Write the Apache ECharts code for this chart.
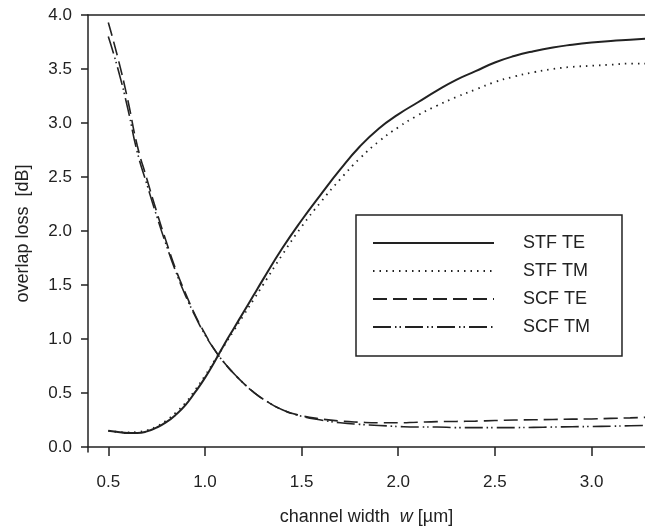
<!DOCTYPE html>
<html>
<head>
<meta charset="utf-8">
<script src="https://cdn.jsdelivr.net/npm/echarts@6/dist/echarts.min.js"></script>
<style>
  html, body { margin: 0; padding: 0; background: #fff; }
  #chart { width: 645px; height: 527px; }
</style>
</head>
<body>
<div id="chart"></div>
<script>
  // channel width w [um]
  const widths = [0.5, 0.55, 0.6, 0.65, 0.7, 0.75, 0.8, 0.85, 0.9, 0.95, 1.0, 1.05, 1.1, 1.15, 1.2, 1.25, 1.3,
    1.4, 1.5, 1.6, 1.7, 1.8, 1.9, 2.0, 2.1, 2.2, 2.3, 2.4, 2.5, 2.6, 2.7, 2.8, 2.9, 3.0, 3.1, 3.2, 3.28];

  // overlap loss [dB]
  const stfTE = [0.15, 0.14, 0.13, 0.13, 0.145, 0.18, 0.23, 0.30, 0.39, 0.51, 0.64, 0.79, 0.95, 1.10, 1.25, 1.40, 1.55,
    1.84, 2.10, 2.34, 2.57, 2.78, 2.95, 3.08, 3.19, 3.30, 3.40, 3.48, 3.56, 3.62, 3.665, 3.70, 3.725, 3.745, 3.76, 3.77, 3.78];
  const stfTM = [0.15, 0.14, 0.135, 0.14, 0.155, 0.19, 0.245, 0.32, 0.41, 0.53, 0.66, 0.80, 0.94, 1.08, 1.22, 1.36, 1.50,
    1.78, 2.04, 2.27, 2.48, 2.67, 2.83, 2.96, 3.07, 3.16, 3.24, 3.31, 3.38, 3.43, 3.47, 3.50, 3.52, 3.53, 3.54, 3.55, 3.55];
  const scfTE = [3.93, 3.60, 3.22, 2.79, 2.48, 2.18, 1.90, 1.64, 1.42, 1.22, 1.05, 0.90, 0.78, 0.68, 0.59, 0.51, 0.445,
    0.345, 0.29, 0.26, 0.24, 0.23, 0.225, 0.225, 0.23, 0.235, 0.237, 0.24, 0.245, 0.25, 0.252, 0.255, 0.258, 0.26, 0.265, 0.27, 0.275];
  const scfTM = [3.80, 3.50, 3.14, 2.73, 2.43, 2.14, 1.87, 1.62, 1.40, 1.21, 1.04, 0.90, 0.78, 0.68, 0.59, 0.51, 0.445,
    0.345, 0.285, 0.25, 0.225, 0.21, 0.20, 0.19, 0.185, 0.185, 0.18, 0.18, 0.18, 0.18, 0.182, 0.185, 0.188, 0.19, 0.193, 0.197, 0.20];

  const xTicks = [0.5, 1.0, 1.5, 2.0, 2.5, 3.0];
  const yTicks = [0, 0.5, 1.0, 1.5, 2.0, 2.5, 3.0, 3.5, 4.0];

  const ink = '#222';
  const font = 'Liberation Sans, Arial, sans-serif';

  function pairs(ys) {
    return widths.map((w, i) => [w, ys[i]]);
  }

  function lineSeries(name, ys, width, type) {
    return {
      name: name,
      type: 'line',
      symbol: 'none',
      smooth: 0.5,
      color: ink,
      lineStyle: { color: ink, width: width, type: type },
      data: pairs(ys)
    };
  }

  const chart = echarts.init(document.getElementById('chart'), null, { renderer: 'canvas' });

  const option = {
    animation: false,
    backgroundColor: '#fff',
    textStyle: { fontFamily: font, color: ink },
    grid: { left: 88, right: 0, top: 15, bottom: 75, outerBoundsMode: 'none' },
    legend: {
      orient: 'vertical',
      left: 356,
      top: 215,
      itemWidth: 121,
      itemHeight: 14,
      itemGap: 10,
      padding: [19, 32, 20, 16],
      borderColor: ink,
      borderWidth: 1.5,
      itemStyle: { opacity: 0 },
      textStyle: { fontFamily: font, fontSize: 18, color: ink, lineHeight: 18, padding: [0, 0, 0, 24] },
      data: ['STF TE', 'STF TM', 'SCF TE', 'SCF TM']
    },
    xAxis: [{
      type: 'value',
      min: 0.395,
      max: 3.2765,
      name: 'channel width  {i|w} [µm]',
      nameLocation: 'middle',
      nameGap: 56,
      nameTextStyle: {
        fontFamily: font, fontSize: 18, color: ink,
        rich: { i: { fontFamily: font, fontSize: 18, fontStyle: 'italic', color: ink } }
      },
      splitLine: { show: false },
      axisLine: { lineStyle: { color: ink, width: 1.5 } },
      axisTick: { customValues: xTicks, length: 9, lineStyle: { color: ink, width: 1.5 } },
      axisLabel: {
        customValues: xTicks, margin: 22, fontFamily: font, fontSize: 17, color: ink,
        formatter: v => v.toFixed(1)
      }
    }, {
      type: 'value',
      position: 'top',
      min: 0.395,
      max: 3.2765,
      splitLine: { show: false },
      axisLine: { lineStyle: { color: ink, width: 1.5 } },
      axisTick: { show: false },
      axisLabel: { show: false }
    }],
    yAxis: {
      type: 'value',
      min: -0.046,
      max: 4.0,
      name: 'overlap loss  [dB]',
      nameLocation: 'middle',
      nameGap: 56,
      nameTextStyle: { fontFamily: font, fontSize: 18, color: ink },
      splitLine: { show: false },
      axisLine: { lineStyle: { color: ink, width: 1.5 } },
      axisTick: { customValues: yTicks, length: 7, lineStyle: { color: ink, width: 1.5 } },
      axisLabel: {
        customValues: yTicks, margin: 16, fontFamily: font, fontSize: 17, color: ink,
        formatter: v => v.toFixed(1)
      }
    },
    series: [
      lineSeries('STF TE', stfTE, 2, 'solid'),
      lineSeries('STF TM', stfTM, 1.8, [1.5, 5]),
      lineSeries('SCF TE', scfTE, 1.6, [14, 6]),
      lineSeries('SCF TM', scfTM, 1.6, [18, 4, 1.5, 3, 1.5, 4])
    ]
  };

  chart.setOption(option);
</script>
</body>
</html>
